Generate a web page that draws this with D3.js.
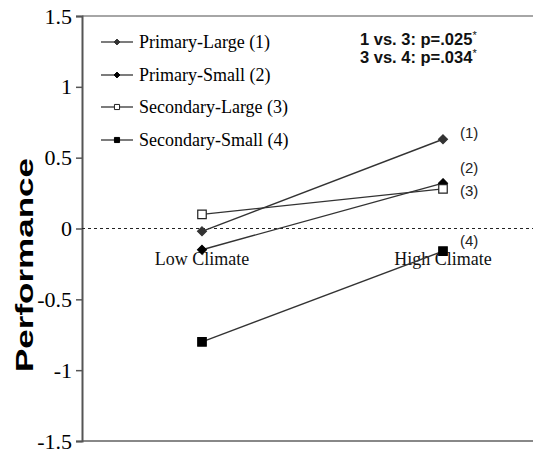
<!DOCTYPE html>
<html>
<head>
<meta charset="utf-8">
<script src="https://cdn.jsdelivr.net/npm/d3@7"></script>
<style>
  body { margin: 0; background: #fff; }
  svg { display: block; }
</style>
</head>
<body>
<script>
// categories + series
var categories = ["Low Climate", "High Climate"];
var seriesNames = ["Primary-Large (1)", "Primary-Small (2)", "Secondary-Large (3)", "Secondary-Small (4)"];
var pointLabels = ["(1)", "(2)", "(3)", "(4)"];
var primaryLarge = [-0.02, 0.63];
var primarySmall = [-0.15, 0.32];
var secondaryLarge = [0.10, 0.28];
var secondarySmall = [-0.80, -0.16];
var yTicks = [1.5, 1, 0.5, 0, -0.5, -1, -1.5];
var notes = ["1 vs. 3: p=.025", "3 vs. 4: p=.034"];

var values = [primaryLarge, primarySmall, secondaryLarge, secondarySmall];
// marker style per series
var markers = [
    { shape: d3.symbolDiamond2, fill: "#333", stroke: "#333" },
    { shape: d3.symbolDiamond2, fill: "#000", stroke: "#000" },
    { shape: d3.symbolSquare, fill: "#fff", stroke: "#222" },
    { shape: d3.symbolSquare, fill: "#000", stroke: "#000" }
];
// label offsets for (1)..(4) at the High end
var labelDy = [-1, -10, 7, -5];

var W = 533, H = 454;
var margin = { top: 16, right: 0, bottom: 13, left: 82 };

var svg = d3.select("body").append("svg")
    .attr("width", W)
    .attr("height", H);

var y = d3.scaleLinear()
    .domain([-1.5, 1.5])
    .range([H - margin.bottom, margin.top]);

var x = d3.scalePoint()
    .domain(categories)
    .range([202, 443]);

// frame lines top / bottom
svg.append("line")
    .attr("x1", margin.left).attr("x2", W)
    .attr("y1", y(1.5)).attr("y2", y(1.5))
    .attr("stroke", "#888").attr("stroke-width", 1.5);
svg.append("line")
    .attr("x1", margin.left).attr("x2", W)
    .attr("y1", y(-1.5)).attr("y2", y(-1.5))
    .attr("stroke", "#888").attr("stroke-width", 2);

// y axis
var yAxis = d3.axisLeft(y)
    .tickValues(yTicks)
    .tickSize(6)
    .tickPadding(4)
    .tickFormat(function(d) { return d; });

var gy = svg.append("g")
    .attr("transform", "translate(" + margin.left + ",0)")
    .call(yAxis);
gy.select(".domain").attr("stroke", "#555").attr("stroke-width", 2);
gy.selectAll(".tick line").attr("stroke", "#555").attr("stroke-width", 1.5);
gy.selectAll(".tick text")
    .attr("fill", "#000")
    .style("font-family", "'Liberation Serif', 'Times New Roman', serif")
    .style("font-size", "22px");

// title is stretched in the original, so force its length
svg.append("text")
    .attr("transform", "translate(33,372) rotate(-90)")
    .attr("x", 0)
    .attr("textLength", 214)
    .attr("lengthAdjust", "spacingAndGlyphs")
    .style("font-family", "'Liberation Sans', Arial, sans-serif")
    .style("font-weight", "bold")
    .style("font-size", "24px")
    .text("Performance");

// zero line
svg.append("line")
    .attr("x1", margin.left).attr("x2", W)
    .attr("y1", y(0)).attr("y2", y(0))
    .attr("stroke", "#222").attr("stroke-width", 1.2)
    .attr("stroke-dasharray", "3,3");

// category labels
svg.selectAll(".cat")
    .data(categories)
    .enter().append("text")
    .attr("class", "cat")
    .attr("x", function(d) { return x(d); })
    .attr("y", y(0) + 36)
    .attr("text-anchor", "middle")
    .style("font-family", "'Liberation Serif', 'Times New Roman', serif")
    .style("font-size", "18px")
    .attr("fill", "#111")
    .text(function(d) { return d; });

var line = d3.line()
    .x(function(d, i) { return x(categories[i]); })
    .y(function(d) { return y(d); });

values.forEach(function(vals, s) {
    svg.append("path")
        .datum(vals)
        .attr("d", line)
        .attr("fill", "none")
        .attr("stroke", "#333")
        .attr("stroke-width", 1.4);
});

values.forEach(function(vals, s) {
    var m = markers[s];
    var size = m.shape === d3.symbolDiamond2 ? 50 : 72;
    svg.selectAll(".m" + s)
        .data(vals)
        .enter().append("path")
        .attr("d", d3.symbol().type(m.shape).size(size))
        .attr("transform", function(d, i) {
            return "translate(" + x(categories[i]) + "," + y(d) + ")";
        })
        .attr("fill", m.fill)
        .attr("stroke", m.stroke)
        .attr("stroke-width", 1.2);
});

// (1)..(4) labels
svg.selectAll(".pl")
    .data(pointLabels)
    .enter().append("text")
    .attr("x", x(categories[1]) + 17)
    .attr("y", function(d, i) { return y(values[i][1]) + labelDy[i]; })
    .style("font-family", "'Liberation Sans', Arial, sans-serif")
    .style("font-size", "15px")
    .attr("fill", "#222")
    .text(function(d) { return d; });

// legend
var legend = svg.append("g");
var legendY = [42, 75, 107, 140];
seriesNames.forEach(function(name, i) {
    var g = legend.append("g").attr("transform", "translate(0," + legendY[i] + ")");
    g.append("line")
        .attr("x1", 101).attr("x2", 133)
        .attr("stroke", "#444").attr("stroke-width", 1.4);
    var m = markers[i];
    g.append("path")
        .attr("d", d3.symbol().type(m.shape).size(m.shape === d3.symbolDiamond2 ? 22 : 26))
        .attr("transform", "translate(117,0)")
        .attr("fill", m.fill)
        .attr("stroke", m.stroke)
        .attr("stroke-width", 1);
    g.append("text")
        .attr("x", 139)
        .attr("y", 6)
        .style("font-family", "'Liberation Serif', 'Times New Roman', serif")
        .style("font-size", "18px")
        .attr("fill", "#000")
        .text(name);
});

// p-value notes
notes.forEach(function(t, i) {
    var tx = svg.append("text")
        .attr("x", 360)
        .attr("y", 45 + i * 18)
        .style("font-family", "'Liberation Sans', Arial, sans-serif")
        .style("font-weight", "bold")
        .style("font-size", "16.5px")
        .attr("fill", "#111")
        .text(t);
    tx.append("tspan")
        .attr("dy", -6)
        .style("font-size", "11px")
        .style("font-weight", "normal")
        .text("*");
});
</script>
</body>
</html>
